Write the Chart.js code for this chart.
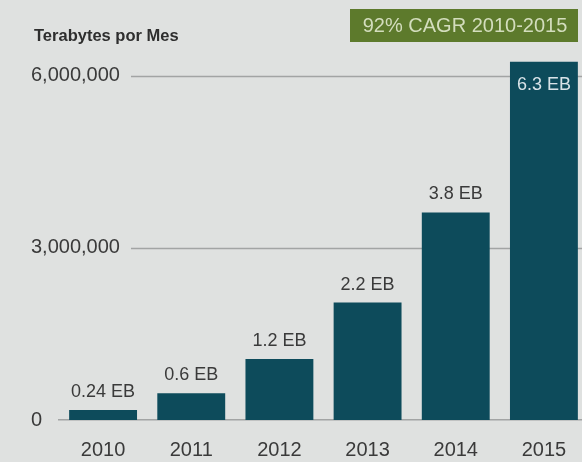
<!DOCTYPE html>
<html>
<head>
<meta charset="utf-8">
<script src="https://cdn.jsdelivr.net/npm/chart.js@4"></script>
<style>
  html, body { margin: 0; padding: 0; background: #dfe1e0; overflow: hidden; width: 582px; height: 462px; }
  #wrap { width: 592px; height: 462px; }
</style>
</head>
<body>
<div id="wrap"><canvas id="chart" width="592" height="462"></canvas></div>
<script>
// Data
const years = ['2010', '2011', '2012', '2013', '2014', '2015'];
const terabytes = [175000, 466000, 1064000, 2046000, 3616000, 6244000];
const barLabels = ['0.24 EB', '0.6 EB', '1.2 EB', '2.2 EB', '3.8 EB', '6.3 EB'];
const yTicks = [0, 3000000, 6000000];
const axisTitle = 'Terabytes por Mes';
const badgeText = '92% CAGR 2010-2015';

const barColor = '#0d4b5b';
const textColor = '#3a3a3a';
const gridColor = '#a2a4a4';

// Title, badge and the partial gridlines that start after each tick label
const decorations = {
    id: 'decorations',
    beforeDatasetsDraw(chart) {
        const ctx = chart.ctx;
        const y = chart.scales.y;
        const area = chart.chartArea;
        ctx.save();
        ctx.font = '20px "Liberation Sans", Arial, sans-serif';
        ctx.strokeStyle = gridColor;
        ctx.lineWidth = 1.5;
        y.ticks.forEach(t => {
            if (t.value === 0) return;
            const py = Math.round(y.getPixelForValue(t.value)) + 0.5;
            const label = t.value.toLocaleString('en-US');
            const start = 31 + ctx.measureText(label).width + 11;
            ctx.beginPath();
            ctx.moveTo(start, py);
            ctx.lineTo(area.right, py);
            ctx.stroke();
        });

        // axis title
        ctx.fillStyle = '#2e2e2e';
        ctx.font = 'bold 16.5px "Liberation Sans", Arial, sans-serif';
        ctx.textAlign = 'left';
        ctx.textBaseline = 'middle';
        ctx.fillText(axisTitle, 34, 36);

        // CAGR badge
        ctx.fillStyle = '#5d7a2c';
        ctx.fillRect(350, 9, 228, 33);
        ctx.fillStyle = '#d3ddbd';
        ctx.font = '20px "Liberation Sans", Arial, sans-serif';
        ctx.textAlign = 'center';
        ctx.fillText(badgeText, 465, 26);
        ctx.restore();
    },
    afterDatasetsDraw(chart) {
        const ctx = chart.ctx;
        const meta = chart.getDatasetMeta(0);
        ctx.save();
        ctx.font = '18px "Liberation Sans", Arial, sans-serif';
        ctx.textAlign = 'center';
        ctx.textBaseline = 'middle';
        meta.data.forEach((bar, i) => {
            if (i === meta.data.length - 1) {
                // last bar has its label inside the bar
                ctx.fillStyle = '#d8e3e8';
                ctx.fillText(barLabels[i], bar.x, bar.y + 23);
            } else {
                ctx.fillStyle = textColor;
                ctx.fillText(barLabels[i], bar.x, bar.y - 18);
            }
        });
        ctx.restore();
    }
};

new Chart(document.getElementById('chart').getContext('2d'), {
    type: 'bar',
    data: {
        labels: years,
        datasets: [{
            data: terabytes,
            backgroundColor: barColor,
            borderWidth: 0,
            barPercentage: 0.77,
            categoryPercentage: 1.0
        }]
    },
    options: {
        responsive: false,
        animation: false,
        events: [],
        layout: { padding: { left: 0, right: 4, top: 47, bottom: 0 } },
        plugins: {
            legend: { display: false },
            tooltip: { enabled: false }
        },
        scales: {
            x: {
                grid: { display: false, drawTicks: false },
                border: { display: true, color: gridColor, width: 1.5 },
                ticks: {
                    color: textColor,
                    font: { family: '"Liberation Sans", Arial, sans-serif', size: 20 },
                    padding: 18
                },
                afterFit(scale) { scale.height = 42; }
            },
            y: {
                min: 0,
                max: 6500000,
                grid: { display: false, drawTicks: false },
                border: { display: false },
                afterBuildTicks(scale) {
                    scale.ticks = yTicks.map(v => ({ value: v }));
                },
                ticks: {
                    color: textColor,
                    mirror: true,
                    padding: -28,
                    font: { family: '"Liberation Sans", Arial, sans-serif', size: 20 },
                    callback: v => v.toLocaleString('en-US')
                },
                afterFit(scale) { scale.width = 59; }
            }
        }
    },
    plugins: [decorations]
});
</script>
</body>
</html>
